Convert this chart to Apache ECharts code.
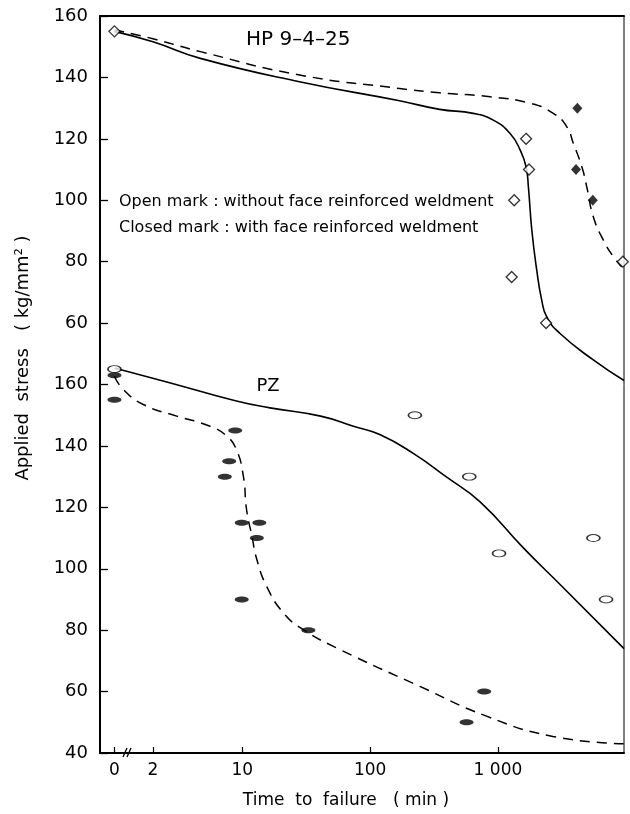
<!DOCTYPE html>
<html>
<head>
<meta charset="UTF-8">
<title>Applied stress vs time to failure</title>
<script src="https://cdn.jsdelivr.net/npm/echarts@6/dist/echarts.min.js"></script>
<style>
  html, body { margin: 0; padding: 0; background: #fff; }
  #chart { width: 630px; height: 814px; }
</style>
</head>
<body>
<div id="chart"></div>
<script>
// time to failure in minutes (0 = the "0" position left of the axis break)
var hpOpenT = [0, 1660, 1750, 1340, 1280, 2380, 9480];
var hpOpenS = [155, 120, 110, 100, 75, 60, 80];
var hpClosedT = [4180, 4080, 5520];
var hpClosedS = [130, 110, 100];

var pzOpenT = [0, 224, 597, 1020, 5580, 7010];
var pzOpenS = [165, 150, 130, 105, 110, 90];
var pzClosedT = [0, 0, 8.8, 7.9, 7.3, 9.9, 13.6, 13, 9.9, 32.9, 780, 568];
var pzClosedS = [163, 155, 145, 135, 130, 115, 115, 110, 90, 80, 60, 50];

// fitted curves
var hpSolidT = [0, 2, 4.7, 28, 170, 350, 640, 920, 1240, 1490, 1660, 1730, 1840, 2010, 2200, 2410, 3060, 5570, 9680];
var hpSolidS = [155, 151.6, 146.2, 138.6, 132.4, 129.6, 128.3, 126.1, 121.8, 116.4, 110.9, 104.4, 90.3, 77.3, 67.5, 62, 56.6, 48, 41.3];
var hpDashT = [0, 2, 4.7, 28, 170, 350, 870, 1780, 2710, 3450, 3890, 4530, 4950, 5570, 6680, 8000, 9310];
var hpDashS = [155.5, 152.6, 148.4, 140.8, 136.4, 135, 133.7, 131.6, 128.3, 124, 118.5, 110.9, 104.4, 94.6, 87, 81.6, 78.3];
var pzSolidT = [0, 2.7, 9, 16.5, 41, 74, 119, 219, 395, 725, 1580, 3160, 9680];
var pzSolidS = [165.4, 160.6, 154.6, 152.4, 149.7, 146.4, 143.7, 137.5, 129.9, 121.8, 106.8, 94.3, 74];
var pzDashT = [0, 1.17, 1.68, 3.07, 5.6, 7.55, 9, 10.2, 10.8, 11.9, 13, 15.5, 21, 30, 58, 245, 813, 2690, 9680];
var pzDashS = [162.7, 158.4, 153.5, 149.7, 146.4, 143.2, 138.8, 130.1, 119.3, 110.6, 103, 94.3, 85.6, 80.2, 73.7, 61.7, 52, 45.4, 43];

var xTickT = [0, 2, 10, 100, 1000];
var xTickLabels = ['0', '2', '10', '100', '1 000'];

var FONT = 'DejaVu Sans';

// log scale with 0 drawn at the decade below 2
function lg(t) { return t > 0 ? Math.log10(t) : 0; }
// both materials share one axis: HP 9-4-25 sits on top (60..160), PZ below (40..160)
function hpY(s) { return s + 80; }
function pzY(s) { return s - 40; }

function pairs(ts, ss, f) {
  return ts.map(function (t, i) { return [lg(t), f(ss[i])]; });
}

var xTickPos = xTickT.map(lg);

var ellipse = 'path://M0,-1C0.5523,-1 1,-0.5523 1,0C1,0.5523 0.5523,1 0,1C-0.5523,1 -1,0.5523 -1,0C-1,-0.5523 -0.5523,-1 0,-1Z';

function curve(data, dashed) {
  return {
    type: 'line', data: data, smooth: 0.5, showSymbol: false,
    lineStyle: { color: '#000', width: dashed ? 1.5 : 1.6, type: dashed ? [10, 7] : 'solid' },
    z: 2, silent: true
  };
}

function marks(data, symbol, size, filled) {
  return {
    type: 'scatter', data: data, symbol: symbol, symbolSize: size,
    itemStyle: { color: filled ? '#000' : '#fff', borderColor: '#000', borderWidth: filled ? 0 : 1.3 },
    z: 5
  };
}

var chart = echarts.init(document.getElementById('chart'));
chart.setOption({
  animation: false,
  backgroundColor: '#fff',
  grid: { left: 100, right: 6, top: 16, bottom: 61, show: true, borderColor: '#000', borderWidth: 1 },
  xAxis: [{
    type: 'value', min: -0.113, max: 3.986,
    axisLine: { onZero: false, lineStyle: { color: '#000', width: 2 } },
    axisTick: { inside: true, length: 6, customValues: xTickPos, lineStyle: { color: '#000', width: 1.2 } },
    axisLabel: {
      customValues: xTickPos, color: '#000', fontSize: 17, fontFamily: FONT, margin: 9,
      formatter: function (v) {
        var best = 0;
        xTickPos.forEach(function (p, i) { if (Math.abs(p - v) < Math.abs(xTickPos[best] - v)) best = i; });
        return xTickLabels[best];
      }
    },
    splitLine: { show: false }
  }, {
    type: 'value', position: 'top', min: -0.113, max: 3.986,
    axisLine: { onZero: false, lineStyle: { color: '#000', width: 2 } },
    axisTick: { show: false }, axisLabel: { show: false }, splitLine: { show: false }
  }],
  yAxis: {
    type: 'value', min: 0, max: 240, interval: 20,
    axisLine: { show: true, onZero: false, lineStyle: { color: '#000', width: 2 } },
    axisTick: { show: true, inside: true, length: 8, lineStyle: { color: '#000', width: 1.3 } },
    axisLabel: {
      color: '#000', fontSize: 18, fontFamily: FONT, margin: 12,
      formatter: function (v) { return String(v <= 120 ? v + 40 : v - 80); }
    },
    splitLine: { show: false }
  },
  series: [
    curve(pairs(hpSolidT, hpSolidS, hpY), false),
    curve(pairs(hpDashT, hpDashS, hpY), true),
    curve(pairs(pzSolidT, pzSolidS, pzY), false),
    curve(pairs(pzDashT, pzDashS, pzY), true),
    marks(pairs(hpOpenT, hpOpenS, hpY), 'diamond', [11, 11], false),
    marks(pairs(hpClosedT, hpClosedS, hpY), 'diamond', [10, 11], true),
    marks(pairs(pzOpenT, pzOpenS, pzY), ellipse, [13, 7], false),
    marks(pairs(pzClosedT, pzClosedS, pzY), ellipse, [14, 6], true)
  ],
  graphic: [
    { type: 'text', x: 246, y: 40, style: { text: 'HP 9–4–25', fontSize: 20, fontFamily: FONT, fill: '#000', verticalAlign: 'middle' } },
    { type: 'text', x: 119, y: 202, style: { text: 'Open mark : without face reinforced weldment', fontSize: 16, fontFamily: FONT, fill: '#000', verticalAlign: 'middle' } },
    { type: 'text', x: 119, y: 228, style: { text: 'Closed mark : with face reinforced weldment', fontSize: 16, fontFamily: FONT, fill: '#000', verticalAlign: 'middle' } },
    { type: 'text', x: 268, y: 386, style: { text: 'PZ', fontSize: 18, fontFamily: FONT, fill: '#000', align: 'center', verticalAlign: 'middle' } },
    { type: 'text', x: 23, y: 358, rotation: Math.PI / 2, style: { text: 'Applied  stress   ( kg/mm² )', fontSize: 18, fontFamily: FONT, fill: '#000', align: 'center', verticalAlign: 'middle' } },
    { type: 'text', x: 346, y: 801, style: { text: 'Time  to  failure   ( min )', fontSize: 17, fontFamily: FONT, fill: '#000', align: 'center', verticalAlign: 'middle' } },
    { type: 'line', shape: { x1: 123, y1: 757, x2: 127, y2: 748 }, style: { stroke: '#000', lineWidth: 1.3 }, z: 10 },
    { type: 'line', shape: { x1: 127, y1: 757, x2: 131, y2: 748 }, style: { stroke: '#000', lineWidth: 1.3 }, z: 10 }
  ]
});
</script>
</body>
</html>
